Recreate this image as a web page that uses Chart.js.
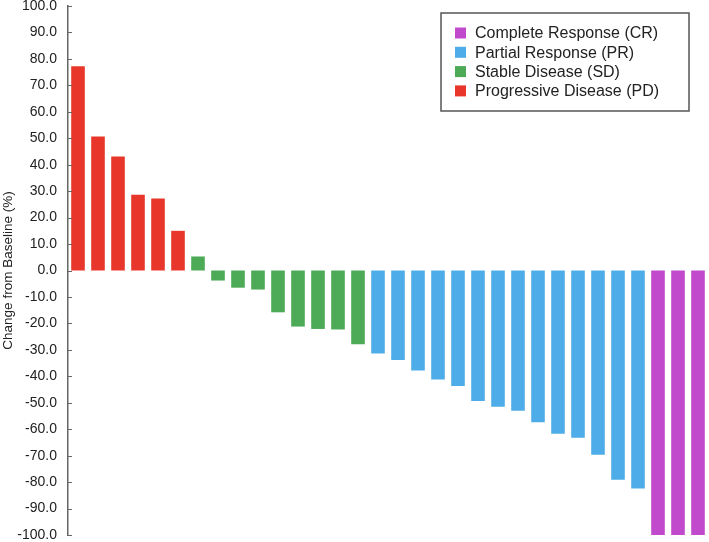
<!DOCTYPE html>
<html>
<head>
<meta charset="utf-8">
<script src="https://cdn.jsdelivr.net/npm/chart.js@4/dist/chart.umd.min.js"></script>
<style>
  html, body { margin: 0; padding: 0; background: #fff; }
  #wrap { width: 709px; height: 542px; position: relative; }
</style>
</head>
<body>
<div id="wrap"><canvas id="waterfall"></canvas></div>
<script>
// one entry per patient, sorted by best change from baseline
const patients = Array.from({ length: 32 }, (_, i) => 'P' + (i + 1));

const pdValues = [77.2, 50.7, 43.1, 28.6, 27.2, 15.0];
const sdValues = [5.3, -3.8, -6.5, -7.2, -15.8, -21.2, -22.1, -22.3, -27.9];
const prValues = [-31.4, -33.8, -37.8, -41.2, -43.7, -49.3, -51.5, -53.0, -57.4, -61.7, -63.2, -69.7, -79.1, -82.4];
const crValues = [-100, -100, -100];

const groupLabels = ['Progressive Disease (PD)', 'Stable Disease (SD)', 'Partial Response (PR)', 'Complete Response (CR)'];
const groupColors = ['#e8372a', '#4daa57', '#4eade8', '#c04acb'];

// place each group's values into its slot along the x axis
function placeGroup(values, offset) {
    const out = new Array(patients.length).fill(null);
    values.forEach((v, i) => { out[offset + i] = v; });
    return out;
}

let offset = 0;
const datasets = [pdValues, sdValues, prValues, crValues].map((vals, g) => {
    const ds = {
        label: groupLabels[g],
        data: placeGroup(vals, offset),
        backgroundColor: groupColors[g],
        borderWidth: 0,
        categoryPercentage: 1,
        barPercentage: 0.68
    };
    offset += vals.length;
    return ds;
});

// short ticks drawn inward from the y axis line
const innerTicks = {
    id: 'innerTicks',
    afterDatasetsDraw(chart) {
        const y = chart.scales.y;
        const ctx = chart.ctx;
        ctx.save();
        ctx.strokeStyle = '#666';
        ctx.lineWidth = 1;
        y.ticks.forEach((t, i) => {
            const py = Math.round(y.getPixelForTick(i)) + 0.5;
            ctx.beginPath();
            ctx.moveTo(y.right, py);
            ctx.lineTo(y.right + 4, py);
            ctx.stroke();
        });
        ctx.restore();
    }
};

// boxed legend in the upper right, CR first
const boxLegend = {
    id: 'boxLegend',
    afterDraw(chart) {
        const ctx = chart.ctx;
        const x = 441, y = 13, w = 248, h = 98;
        ctx.save();
        ctx.fillStyle = '#fff';
        ctx.fillRect(x, y, w, h);
        ctx.strokeStyle = '#555';
        ctx.lineWidth = 1.5;
        ctx.strokeRect(x, y, w, h);
        ctx.font = '16px "Liberation Sans", Arial, sans-serif';
        ctx.textBaseline = 'middle';
        const order = [3, 2, 1, 0];
        order.forEach((d, row) => {
            const cy = 33 + row * 19.3;
            const ds = chart.data.datasets[d];
            ctx.fillStyle = ds.backgroundColor;
            ctx.fillRect(455, cy - 5.5, 11, 11);
            ctx.fillStyle = '#222';
            ctx.fillText(ds.label, 475, cy + 1);
        });
        ctx.restore();
    }
};

new Chart(document.getElementById('waterfall'), {
    type: 'bar',
    data: { labels: patients, datasets: datasets },
    options: {
        responsive: true,
        maintainAspectRatio: false,
        animation: false,
        layout: { padding: { top: 6, bottom: 7, left: 0, right: 1 } },
        plugins: {
            legend: { display: false },
            tooltip: { enabled: false }
        },
        scales: {
            x: {
                stacked: true,
                display: false,
                offset: true
            },
            y: {
                stacked: true,
                min: -100,
                max: 100,
                border: { display: true, color: '#666', width: 1.5 },
                grid: { display: false, drawTicks: false },
                ticks: {
                    stepSize: 10,
                    padding: 11,
                    color: '#222',
                    font: { family: '"Liberation Sans", Arial, sans-serif', size: 14 },
                    callback: v => v.toFixed(1)
                },
                title: {
                    display: true,
                    text: 'Change from Baseline (%)',
                    color: '#222',
                    font: { family: '"Liberation Sans", Arial, sans-serif', size: 13.5 },
                    padding: { top: 0, bottom: 0 }
                },
                afterFit(scale) {
                    scale.width = 68;
                    scale.paddingTop = 0;
                    scale.paddingBottom = 0;
                }
            }
        }
    },
    plugins: [innerTicks, boxLegend]
});
</script>
</body>
</html>
